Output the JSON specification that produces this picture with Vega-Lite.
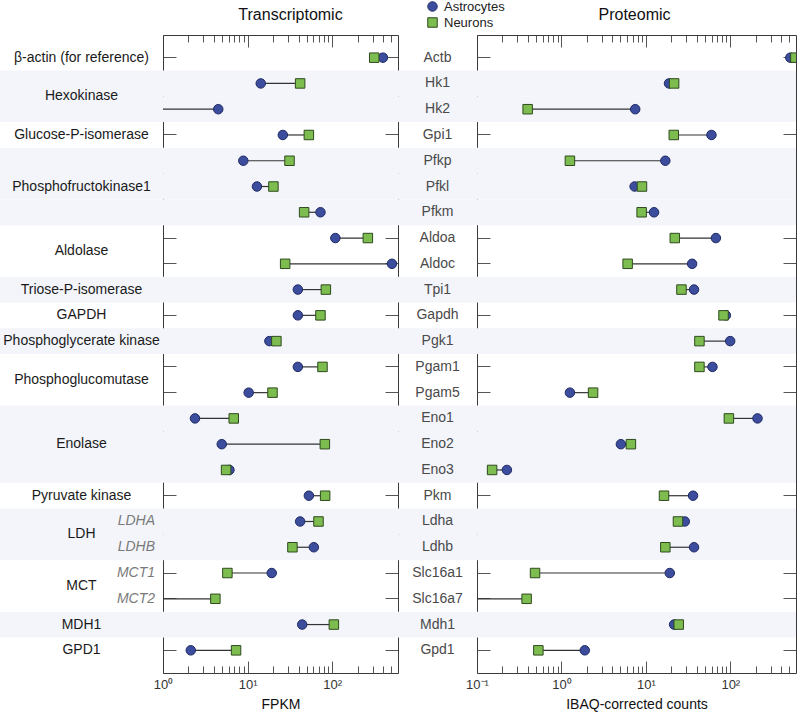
{
  "$schema": "https://vega.github.io/schema/vega-lite/v6.json",
  "padding": {"left": 0, "top": 0, "right": 4, "bottom": 4},
  "spacing": 0,
  "bounds": "flush",
  "config": {
    "view": {"stroke": null},
    "font": "Liberation Sans",
    "concat": {"spacing": 0},
    "axis": {"zindex": 1, "grid": false, "tickColor": "#555555", "domainColor": "#3a3a3a", "minExtent": 0, "maxExtent": 200},
    "legend": {"orient": "none", "legendX": 426, "legendY": -35, "title": null, "labelFontSize": 13, "labelColor": "#222222", "rowPadding": 1, "labelOffset": 5, "padding": 0, "symbolStrokeWidth": 1, "symbolSize": 90}
  },
  "datasets": {
    "rows": [
      {"gene": "Actb", "shade": 0, "sub": ""},
      {"gene": "Hk1", "shade": 1, "sub": ""},
      {"gene": "Hk2", "shade": 1, "sub": ""},
      {"gene": "Gpi1", "shade": 0, "sub": ""},
      {"gene": "Pfkp", "shade": 1, "sub": ""},
      {"gene": "Pfkl", "shade": 1, "sub": ""},
      {"gene": "Pfkm", "shade": 1, "sub": ""},
      {"gene": "Aldoa", "shade": 0, "sub": ""},
      {"gene": "Aldoc", "shade": 0, "sub": ""},
      {"gene": "Tpi1", "shade": 1, "sub": ""},
      {"gene": "Gapdh", "shade": 0, "sub": ""},
      {"gene": "Pgk1", "shade": 1, "sub": ""},
      {"gene": "Pgam1", "shade": 0, "sub": ""},
      {"gene": "Pgam5", "shade": 0, "sub": ""},
      {"gene": "Eno1", "shade": 1, "sub": ""},
      {"gene": "Eno2", "shade": 1, "sub": ""},
      {"gene": "Eno3", "shade": 1, "sub": ""},
      {"gene": "Pkm", "shade": 0, "sub": ""},
      {"gene": "Ldha", "shade": 1, "sub": "LDHA"},
      {"gene": "Ldhb", "shade": 1, "sub": "LDHB"},
      {"gene": "Slc16a1", "shade": 0, "sub": "MCT1"},
      {"gene": "Slc16a7", "shade": 0, "sub": "MCT2"},
      {"gene": "Mdh1", "shade": 1, "sub": ""},
      {"gene": "Gpd1", "shade": 0, "sub": ""}
    ],
    "groups": [
      {"group": "β-actin (for reference)", "anchor": "Actb", "span": "row"},
      {"group": "Hexokinase", "anchor": "Hk1", "span": "edge"},
      {"group": "Glucose-P-isomerase", "anchor": "Gpi1", "span": "row"},
      {"group": "Phosphofructokinase1", "anchor": "Pfkl", "span": "row"},
      {"group": "Aldolase", "anchor": "Aldoa", "span": "edge"},
      {"group": "Triose-P-isomerase", "anchor": "Tpi1", "span": "row"},
      {"group": "GAPDH", "anchor": "Gapdh", "span": "row"},
      {"group": "Phosphoglycerate kinase", "anchor": "Pgk1", "span": "row"},
      {"group": "Phosphoglucomutase", "anchor": "Pgam1", "span": "edge"},
      {"group": "Enolase", "anchor": "Eno2", "span": "row"},
      {"group": "Pyruvate kinase", "anchor": "Pkm", "span": "row"},
      {"group": "LDH", "anchor": "Ldha", "span": "edge"},
      {"group": "MCT", "anchor": "Slc16a1", "span": "edge"},
      {"group": "MDH1", "anchor": "Mdh1", "span": "row"},
      {"group": "GPD1", "anchor": "Gpd1", "span": "row"}
    ],
    "tx": [
      {"gene": "Actb", "Astrocytes": 398, "Neurons": 314},
      {"gene": "Hk1", "Astrocytes": 14.3, "Neurons": 41.8},
      {"gene": "Hk2", "Astrocytes": 4.5, "Neurons": 0.5},
      {"gene": "Gpi1", "Astrocytes": 26.1, "Neurons": 53},
      {"gene": "Pfkp", "Astrocytes": 8.9, "Neurons": 31.3},
      {"gene": "Pfkl", "Astrocytes": 12.9, "Neurons": 20.2},
      {"gene": "Pfkm", "Astrocytes": 72.7, "Neurons": 46.6},
      {"gene": "Aldoa", "Astrocytes": 109, "Neurons": 264},
      {"gene": "Aldoc", "Astrocytes": 509, "Neurons": 27.8},
      {"gene": "Tpi1", "Astrocytes": 39.3, "Neurons": 84.2},
      {"gene": "Gapdh", "Astrocytes": 39.3, "Neurons": 72.7},
      {"gene": "Pgk1", "Astrocytes": 18.1, "Neurons": 21.9},
      {"gene": "Pgam1", "Astrocytes": 39.3, "Neurons": 76.8},
      {"gene": "Pgam5", "Astrocytes": 10.3, "Neurons": 19.7},
      {"gene": "Eno1", "Astrocytes": 2.39, "Neurons": 6.86},
      {"gene": "Eno2", "Astrocytes": 4.95, "Neurons": 81.9},
      {"gene": "Eno3", "Astrocytes": 6.1, "Neurons": 5.57},
      {"gene": "Pkm", "Astrocytes": 53, "Neurons": 82.6},
      {"gene": "Ldha", "Astrocytes": 41.8, "Neurons": 68.9},
      {"gene": "Ldhb", "Astrocytes": 60.7, "Neurons": 33.9},
      {"gene": "Slc16a1", "Astrocytes": 19.3, "Neurons": 5.77},
      {"gene": "Slc16a7", "Astrocytes": 0.5, "Neurons": 4.16},
      {"gene": "Mdh1", "Astrocytes": 44.2, "Neurons": 104.7},
      {"gene": "Gpd1", "Astrocytes": 2.13, "Neurons": 7.31}
    ],
    "pr": [
      {"gene": "Actb", "Astrocytes": 514, "Neurons": 590},
      {"gene": "Hk1", "Astrocytes": 18.8, "Neurons": 21.6},
      {"gene": "Hk2", "Astrocytes": 7.48, "Neurons": 0.398},
      {"gene": "Gpi1", "Astrocytes": 59.8, "Neurons": 21.4},
      {"gene": "Pfkp", "Astrocytes": 17.0, "Neurons": 1.26},
      {"gene": "Pfkl", "Astrocytes": 7.36, "Neurons": 8.99},
      {"gene": "Pfkm", "Astrocytes": 12.5, "Neurons": 8.91},
      {"gene": "Aldoa", "Astrocytes": 67.5, "Neurons": 22.0},
      {"gene": "Aldoc", "Astrocytes": 35.3, "Neurons": 6.08},
      {"gene": "Tpi1", "Astrocytes": 37.2, "Neurons": 26.4},
      {"gene": "Gapdh", "Astrocytes": 88.6, "Neurons": 83.1},
      {"gene": "Pgk1", "Astrocytes": 99.7, "Neurons": 43.1},
      {"gene": "Pgam1", "Astrocytes": 61.5, "Neurons": 43.1},
      {"gene": "Pgam5", "Astrocytes": 1.26, "Neurons": 2.37},
      {"gene": "Eno1", "Astrocytes": 210, "Neurons": 96.2},
      {"gene": "Eno2", "Astrocytes": 5.06, "Neurons": 6.65},
      {"gene": "Eno3", "Astrocytes": 0.226, "Neurons": 0.151},
      {"gene": "Pkm", "Astrocytes": 36.2, "Neurons": 16.4},
      {"gene": "Ldha", "Astrocytes": 28.9, "Neurons": 24.0},
      {"gene": "Ldhb", "Astrocytes": 37.2, "Neurons": 17.0},
      {"gene": "Slc16a1", "Astrocytes": 19.2, "Neurons": 0.487},
      {"gene": "Slc16a7", "Astrocytes": 0.05, "Neurons": 0.387},
      {"gene": "Mdh1", "Astrocytes": 21.6, "Neurons": 24.5},
      {"gene": "Gpd1", "Astrocytes": 1.89, "Neurons": 0.533}
    ]
  },
  "hconcat": [
    {
      "width": 163,
      "height": 638,
      "layer": [
        {
          "data": {"name": "rows"},
          "transform": [{"filter": "datum.shade == 1"}],
          "mark": {"type": "rect", "fill": "#f3f5fa"},
          "encoding": {
            "y": {"field": "gene", "type": "nominal", "axis": null,
              "scale": {"type": "band", "paddingInner": 0, "paddingOuter": 0.38, "domain": ["Actb","Hk1","Hk2","Gpi1","Pfkp","Pfkl","Pfkm","Aldoa","Aldoc","Tpi1","Gapdh","Pgk1","Pgam1","Pgam5","Eno1","Eno2","Eno3","Pkm","Ldha","Ldhb","Slc16a1","Slc16a7","Mdh1","Gpd1"]}},
            "x": {"value": 0},
            "x2": {"value": "width"}
          }
        },
        {
          "data": {"name": "groups"},
          "transform": [{"filter": "datum.span == 'row'"}],
          "mark": {"type": "text", "fontSize": 14, "color": "#1a1a1a"},
          "encoding": {
            "y": {"field": "anchor", "type": "nominal", "axis": null,
              "scale": {"type": "band", "paddingInner": 0, "paddingOuter": 0.38, "domain": ["Actb","Hk1","Hk2","Gpi1","Pfkp","Pfkl","Pfkm","Aldoa","Aldoc","Tpi1","Gapdh","Pgk1","Pgam1","Pgam5","Eno1","Eno2","Eno3","Pkm","Ldha","Ldhb","Slc16a1","Slc16a7","Mdh1","Gpd1"]}},
            "text": {"field": "group"}
          }
        },
        {
          "data": {"name": "groups"},
          "transform": [{"filter": "datum.span == 'edge'"}],
          "mark": {"type": "text", "fontSize": 14, "color": "#1a1a1a"},
          "encoding": {
            "y": {"field": "anchor", "type": "nominal", "axis": null, "bandPosition": 1,
              "scale": {"type": "band", "paddingInner": 0, "paddingOuter": 0.38, "domain": ["Actb","Hk1","Hk2","Gpi1","Pfkp","Pfkl","Pfkm","Aldoa","Aldoc","Tpi1","Gapdh","Pgk1","Pgam1","Pgam5","Eno1","Eno2","Eno3","Pkm","Ldha","Ldhb","Slc16a1","Slc16a7","Mdh1","Gpd1"]}},
            "text": {"field": "group"}
          }
        },
        {
          "data": {"name": "rows"},
          "transform": [{"filter": "datum.sub != ''"}],
          "mark": {"type": "text", "fontSize": 14, "fontStyle": "italic", "color": "#7a7a7a", "align": "right", "dx": -8},
          "encoding": {
            "y": {"field": "gene", "type": "nominal", "axis": null,
              "scale": {"type": "band", "paddingInner": 0, "paddingOuter": 0.38, "domain": ["Actb","Hk1","Hk2","Gpi1","Pfkp","Pfkl","Pfkm","Aldoa","Aldoc","Tpi1","Gapdh","Pgk1","Pgam1","Pgam5","Eno1","Eno2","Eno3","Pkm","Ldha","Ldhb","Slc16a1","Slc16a7","Mdh1","Gpd1"]}},
            "x": {"value": "width"},
            "text": {"field": "sub"}
          }
        }
      ]
    },
    {
      "width": 235,
      "height": 638,
      "title": {"text": "Transcriptomic", "fontSize": 16, "fontWeight": "normal", "color": "#111111", "dx": 10, "offset": 12},
      "layer": [
        {
          "data": {"name": "rows"},
          "transform": [{"filter": "datum.shade == 1"}],
          "mark": {"type": "rect", "fill": "#f3f5fa"},
          "encoding": {
            "y": {"field": "gene", "type": "nominal", "axis": null,
              "scale": {"type": "band", "paddingInner": 0, "paddingOuter": 0.38, "domain": ["Actb","Hk1","Hk2","Gpi1","Pfkp","Pfkl","Pfkm","Aldoa","Aldoc","Tpi1","Gapdh","Pgk1","Pgam1","Pgam5","Eno1","Eno2","Eno3","Pkm","Ldha","Ldhb","Slc16a1","Slc16a7","Mdh1","Gpd1"]}},
            "x": {"value": 0},
            "x2": {"value": "width"}
          }
        },
        {
          "data": {"name": "tx"},
          "mark": {"type": "rule", "color": "#333333", "strokeWidth": 1.2, "clip": true},
          "encoding": {
            "y": {"field": "gene", "type": "nominal",
              "scale": {"type": "band", "paddingInner": 0, "paddingOuter": 0.38, "domain": ["Actb","Hk1","Hk2","Gpi1","Pfkp","Pfkl","Pfkm","Aldoa","Aldoc","Tpi1","Gapdh","Pgk1","Pgam1","Pgam5","Eno1","Eno2","Eno3","Pkm","Ldha","Ldhb","Slc16a1","Slc16a7","Mdh1","Gpd1"]},
              "axis": {"orient": "left", "labels": false, "title": null, "ticks": true, "tickSize": -13}},
            "x": {"field": "Astrocytes", "type": "quantitative",
              "scale": {"type": "log", "domain": [1, 600]},
              "axis": {"orient": "bottom", "values": [1, 10, 100],
                "labelExpr": "datum.value == 1 ? '10⁰' : datum.value == 10 ? '10¹' : '10²'",
                "labelOverlap": false, "labelFlush": false, "ticks": true, "tickSize": -12, "labelPadding": 17, "labelFontSize": 13, "labelColor": "#333333",
                "title": "FPKM", "titleFontSize": 14, "titleFontWeight": "normal", "titleColor": "#111111", "titlePadding": 6}},
            "x2": {"field": "Neurons"}
          }
        },
        {
          "data": {"name": "tx"},
          "mark": {"type": "rule", "opacity": 0},
          "encoding": {
            "y": {"field": "gene", "type": "nominal", "axis": null,
              "scale": {"type": "band", "paddingInner": 0, "paddingOuter": 0.38, "domain": ["Actb","Hk1","Hk2","Gpi1","Pfkp","Pfkl","Pfkm","Aldoa","Aldoc","Tpi1","Gapdh","Pgk1","Pgam1","Pgam5","Eno1","Eno2","Eno3","Pkm","Ldha","Ldhb","Slc16a1","Slc16a7","Mdh1","Gpd1"]}},
            "x": {"field": "Astrocytes", "type": "quantitative",
              "scale": {"type": "log", "domain": [1, 600]},
              "axis": {"orient": "bottom", "values": [2,3,4,5,6,7,8,9,20,30,40,50,60,70,80,90,200,300,400,500],
                "labels": false, "domain": false, "ticks": true, "tickSize": -7, "title": null}}
          }
        },
        {
          "data": {"name": "tx"},
          "mark": {"type": "rule", "opacity": 0},
          "encoding": {
            "y": {"field": "gene", "type": "nominal", "axis": null,
              "scale": {"type": "band", "paddingInner": 0, "paddingOuter": 0.38, "domain": ["Actb","Hk1","Hk2","Gpi1","Pfkp","Pfkl","Pfkm","Aldoa","Aldoc","Tpi1","Gapdh","Pgk1","Pgam1","Pgam5","Eno1","Eno2","Eno3","Pkm","Ldha","Ldhb","Slc16a1","Slc16a7","Mdh1","Gpd1"]}},
            "x": {"field": "Astrocytes", "type": "quantitative",
              "scale": {"type": "log", "domain": [1, 600]},
              "axis": {"orient": "top", "values": [2,3,4,5,6,7,8,9,20,30,40,50,60,70,80,90,200,300,400,500],
                "labels": false, "domain": false, "ticks": true, "tickSize": -7, "title": null}}
          }
        },
        {
          "data": {"name": "tx"},
          "transform": [{"fold": ["Astrocytes", "Neurons"], "as": ["cell", "value"]}],
          "mark": {"type": "point", "filled": true, "size": 90, "strokeWidth": 1, "opacity": 1, "clip": true},
          "encoding": {
            "y": {"field": "gene", "type": "nominal",
              "scale": {"type": "band", "paddingInner": 0, "paddingOuter": 0.38, "domain": ["Actb","Hk1","Hk2","Gpi1","Pfkp","Pfkl","Pfkm","Aldoa","Aldoc","Tpi1","Gapdh","Pgk1","Pgam1","Pgam5","Eno1","Eno2","Eno3","Pkm","Ldha","Ldhb","Slc16a1","Slc16a7","Mdh1","Gpd1"]},
              "axis": {"orient": "right", "labels": false, "title": null, "ticks": true, "tickSize": -13}},
            "x": {"field": "value", "type": "quantitative",
              "scale": {"type": "log", "domain": [1, 600]},
              "axis": {"orient": "top", "values": [1, 10, 100], "labels": false, "ticks": true, "tickSize": -12, "title": null}},
            "color": {"field": "cell", "type": "nominal",
              "scale": {"domain": ["Astrocytes", "Neurons"], "range": ["#3d4d9e", "#7dbd4f"]}},
            "shape": {"field": "cell", "type": "nominal",
              "scale": {"domain": ["Astrocytes", "Neurons"], "range": ["circle", "square"]}},
            "stroke": {"field": "cell", "type": "nominal",
              "scale": {"domain": ["Astrocytes", "Neurons"], "range": ["#1e2a62", "#2e4a1e"]}}
          }
        }
      ],
      "resolve": {"axis": {"x": "independent", "y": "independent"}}
    },
    {
      "width": 79,
      "height": 638,
      "layer": [
        {
          "data": {"name": "rows"},
          "transform": [{"filter": "datum.shade == 1"}],
          "mark": {"type": "rect", "fill": "#f3f5fa"},
          "encoding": {
            "y": {"field": "gene", "type": "nominal", "axis": null,
              "scale": {"type": "band", "paddingInner": 0, "paddingOuter": 0.38, "domain": ["Actb","Hk1","Hk2","Gpi1","Pfkp","Pfkl","Pfkm","Aldoa","Aldoc","Tpi1","Gapdh","Pgk1","Pgam1","Pgam5","Eno1","Eno2","Eno3","Pkm","Ldha","Ldhb","Slc16a1","Slc16a7","Mdh1","Gpd1"]}},
            "x": {"value": 0},
            "x2": {"value": "width"}
          }
        },
        {
          "data": {"name": "rows"},
          "mark": {"type": "text", "fontSize": 14, "color": "#4a4a4a"},
          "encoding": {
            "y": {"field": "gene", "type": "nominal", "axis": null,
              "scale": {"type": "band", "paddingInner": 0, "paddingOuter": 0.38, "domain": ["Actb","Hk1","Hk2","Gpi1","Pfkp","Pfkl","Pfkm","Aldoa","Aldoc","Tpi1","Gapdh","Pgk1","Pgam1","Pgam5","Eno1","Eno2","Eno3","Pkm","Ldha","Ldhb","Slc16a1","Slc16a7","Mdh1","Gpd1"]}},
            "text": {"field": "gene"}
          }
        }
      ]
    },
    {
      "width": 319,
      "height": 638,
      "title": {"text": "Proteomic", "fontSize": 16, "fontWeight": "normal", "color": "#111111", "dx": -2, "offset": 12},
      "layer": [
        {
          "data": {"name": "rows"},
          "transform": [{"filter": "datum.shade == 1"}],
          "mark": {"type": "rect", "fill": "#f3f5fa"},
          "encoding": {
            "y": {"field": "gene", "type": "nominal", "axis": null,
              "scale": {"type": "band", "paddingInner": 0, "paddingOuter": 0.38, "domain": ["Actb","Hk1","Hk2","Gpi1","Pfkp","Pfkl","Pfkm","Aldoa","Aldoc","Tpi1","Gapdh","Pgk1","Pgam1","Pgam5","Eno1","Eno2","Eno3","Pkm","Ldha","Ldhb","Slc16a1","Slc16a7","Mdh1","Gpd1"]}},
            "x": {"value": 0},
            "x2": {"value": "width"}
          }
        },
        {
          "data": {"name": "pr"},
          "mark": {"type": "rule", "color": "#333333", "strokeWidth": 1.2, "clip": true},
          "encoding": {
            "y": {"field": "gene", "type": "nominal",
              "scale": {"type": "band", "paddingInner": 0, "paddingOuter": 0.38, "domain": ["Actb","Hk1","Hk2","Gpi1","Pfkp","Pfkl","Pfkm","Aldoa","Aldoc","Tpi1","Gapdh","Pgk1","Pgam1","Pgam5","Eno1","Eno2","Eno3","Pkm","Ldha","Ldhb","Slc16a1","Slc16a7","Mdh1","Gpd1"]},
              "axis": {"orient": "left", "labels": false, "title": null, "ticks": true, "tickSize": -13}},
            "x": {"field": "Astrocytes", "type": "quantitative",
              "scale": {"type": "log", "domain": [0.1, 600]},
              "axis": {"orient": "bottom", "values": [0.1, 1, 10, 100],
                "labelExpr": "datum.value < 0.5 ? '10⁻¹' : datum.value == 1 ? '10⁰' : datum.value == 10 ? '10¹' : '10²'",
                "labelOverlap": false, "labelFlush": false, "ticks": true, "tickSize": -12, "labelPadding": 17, "labelFontSize": 13, "labelColor": "#333333",
                "title": "IBAQ-corrected counts", "titleFontSize": 14, "titleFontWeight": "normal", "titleColor": "#111111", "titlePadding": 6}},
            "x2": {"field": "Neurons"}
          }
        },
        {
          "data": {"name": "pr"},
          "mark": {"type": "rule", "opacity": 0},
          "encoding": {
            "y": {"field": "gene", "type": "nominal", "axis": null,
              "scale": {"type": "band", "paddingInner": 0, "paddingOuter": 0.38, "domain": ["Actb","Hk1","Hk2","Gpi1","Pfkp","Pfkl","Pfkm","Aldoa","Aldoc","Tpi1","Gapdh","Pgk1","Pgam1","Pgam5","Eno1","Eno2","Eno3","Pkm","Ldha","Ldhb","Slc16a1","Slc16a7","Mdh1","Gpd1"]}},
            "x": {"field": "Astrocytes", "type": "quantitative",
              "scale": {"type": "log", "domain": [0.1, 600]},
              "axis": {"orient": "bottom", "values": [0.2,0.3,0.4,0.5,0.6,0.7,0.8,0.9,2,3,4,5,6,7,8,9,20,30,40,50,60,70,80,90,200,300,400,500],
                "labels": false, "domain": false, "ticks": true, "tickSize": -7, "title": null}}
          }
        },
        {
          "data": {"name": "pr"},
          "mark": {"type": "rule", "opacity": 0},
          "encoding": {
            "y": {"field": "gene", "type": "nominal", "axis": null,
              "scale": {"type": "band", "paddingInner": 0, "paddingOuter": 0.38, "domain": ["Actb","Hk1","Hk2","Gpi1","Pfkp","Pfkl","Pfkm","Aldoa","Aldoc","Tpi1","Gapdh","Pgk1","Pgam1","Pgam5","Eno1","Eno2","Eno3","Pkm","Ldha","Ldhb","Slc16a1","Slc16a7","Mdh1","Gpd1"]}},
            "x": {"field": "Astrocytes", "type": "quantitative",
              "scale": {"type": "log", "domain": [0.1, 600]},
              "axis": {"orient": "top", "values": [0.2,0.3,0.4,0.5,0.6,0.7,0.8,0.9,2,3,4,5,6,7,8,9,20,30,40,50,60,70,80,90,200,300,400,500],
                "labels": false, "domain": false, "ticks": true, "tickSize": -7, "title": null}}
          }
        },
        {
          "data": {"name": "pr"},
          "transform": [{"fold": ["Astrocytes", "Neurons"], "as": ["cell", "value"]}],
          "mark": {"type": "point", "filled": true, "size": 90, "strokeWidth": 1, "opacity": 1, "clip": true},
          "encoding": {
            "y": {"field": "gene", "type": "nominal",
              "scale": {"type": "band", "paddingInner": 0, "paddingOuter": 0.38, "domain": ["Actb","Hk1","Hk2","Gpi1","Pfkp","Pfkl","Pfkm","Aldoa","Aldoc","Tpi1","Gapdh","Pgk1","Pgam1","Pgam5","Eno1","Eno2","Eno3","Pkm","Ldha","Ldhb","Slc16a1","Slc16a7","Mdh1","Gpd1"]},
              "axis": {"orient": "right", "labels": false, "title": null, "ticks": true, "tickSize": -13}},
            "x": {"field": "value", "type": "quantitative",
              "scale": {"type": "log", "domain": [0.1, 600]},
              "axis": {"orient": "top", "values": [0.1, 1, 10, 100], "labels": false, "ticks": true, "tickSize": -12, "title": null}},
            "color": {"field": "cell", "type": "nominal",
              "scale": {"domain": ["Astrocytes", "Neurons"], "range": ["#3d4d9e", "#7dbd4f"]}},
            "shape": {"field": "cell", "type": "nominal",
              "scale": {"domain": ["Astrocytes", "Neurons"], "range": ["circle", "square"]}},
            "stroke": {"field": "cell", "type": "nominal",
              "scale": {"domain": ["Astrocytes", "Neurons"], "range": ["#1e2a62", "#2e4a1e"]}}
          }
        }
      ],
      "resolve": {"axis": {"x": "independent", "y": "independent"}}
    }
  ]
}
